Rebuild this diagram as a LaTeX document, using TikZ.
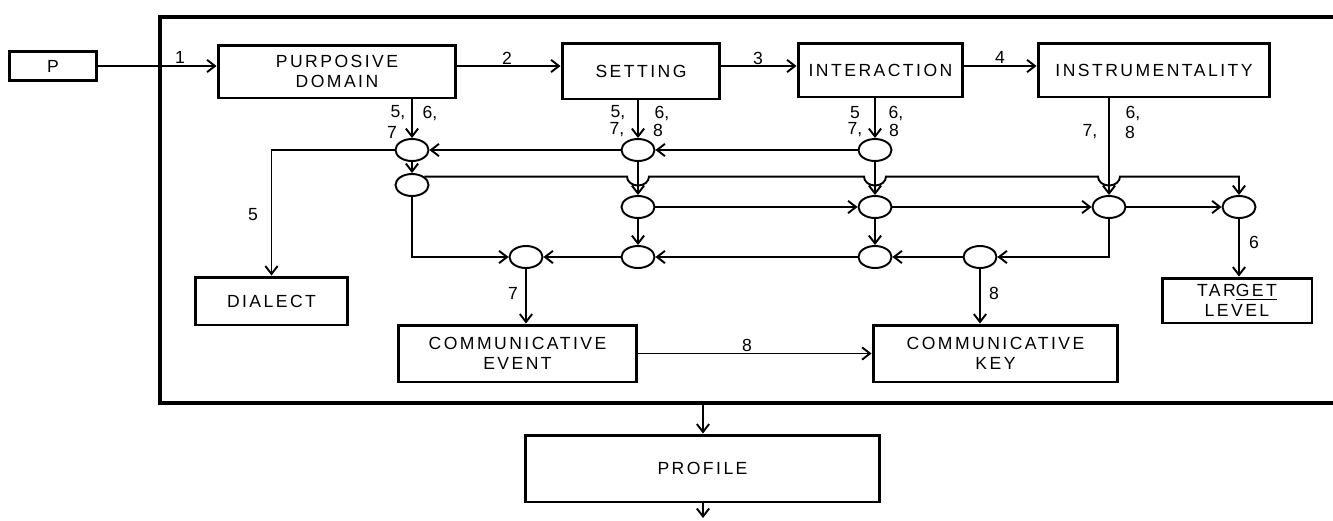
\documentclass[tikz,border=0pt]{standalone}
\usepackage{fontspec}
\setmainfont{Liberation Sans}
\newfontfamily\boxfont{Liberation Sans}[LetterSpace=14]
\usetikzlibrary{arrows.meta,shapes.geometric,calc}

\begin{document}
\begin{tikzpicture}[x=0.02cm, y=-0.02cm, line width=1.1pt,
    >={Straight Barb[length=4.5pt,width=7pt]},
    box/.style={draw, line width=1.7pt, align=center, inner sep=0pt,
      font=\boxfont\fontsize{10}{11}\selectfont},
    junc/.style={draw, ellipse, inner sep=0pt, minimum width=0.66cm, minimum height=0.44cm},
    lab/.style={inner sep=0pt, font=\fontsize{10}{11}\selectfont}]
  \def\jr{11}   % half width of a line jump
  \def\jd{9}    % depth of a line jump
  \useasboundingbox (0,0) rectangle (1333,521);
  % outer frame (open on the right)
  \draw[line width=2pt] (1345,17) -- (160,17) -- (160,403) -- (1345,403);
  % boxes
  \node[box, minimum width=1.74cm, minimum height=0.58cm] (p) at (53,66) {P};
  \node[box, minimum width=4.76cm, minimum height=1.06cm] (pd) at (337,71.5) {PURPOSIVE\\DOMAIN};
  \node[box, minimum width=3.16cm, minimum height=1.12cm] (set) at (641,71) {SETTING};
  \node[box, minimum width=3.30cm, minimum height=1.08cm] (inter) at (880.5,70) {INTERACTION};
  \node[box, minimum width=4.64cm, minimum height=1.08cm] (instr) at (1154,70) {INSTRUMENTALITY};
  \node[box, minimum width=3.06cm, minimum height=0.96cm] (dial) at (271.5,301) {DIALECT};
  \node[box, minimum width=4.78cm, minimum height=1.14cm] (ce) at (517.5,353.5) {COMMUNICATIVE\\EVENT};
  \node[box, minimum width=4.90cm, minimum height=1.14cm] (ck) at (995.5,353.5) {COMMUNICATIVE\\KEY};
  \node[box, minimum width=3.00cm, minimum height=0.90cm] (tl) at (1237,300.5) {TAR\underline{GET}\\LEVEL};
  \node[box, minimum width=7.10cm, minimum height=1.34cm] (prof) at (702.5,468.5) {PROFILE};
  % junctions
  \node[junc] (pd1) at (412,150) {};
  \node[junc] (pd2) at (412,185) {};
  \node[junc] (s1) at (638,150) {};
  \node[junc] (i1) at (875,150) {};
  \node[junc] (s3) at (638,207) {};
  \node[junc] (i3) at (875,207) {};
  \node[junc] (n3) at (1109,207) {};
  \node[junc] (t3) at (1239,207) {};
  \node[junc] (e4) at (526,257) {};
  \node[junc] (s4) at (638,257) {};
  \node[junc] (i4) at (875,257) {};
  \node[junc] (k4) at (980,257) {};
  % top chain
  \draw[->] (p.east) -- (p.east -| pd.west);
  \draw[->] (pd.east |- p.east) -- (set.west |- p.east);
  \draw[->] (set.east |- p.east) -- (inter.west |- p.east);
  \draw[->] (inter.east |- p.east) -- (instr.west |- p.east);
  % from the boxes down to the junctions
  \draw[->] (pd.south -| pd1) -- (pd1.north);
  \draw[->] (set.south -| s1) -- (s1.north);
  \draw[->] (inter.south -| i1) -- (i1.north);
  \draw[->] (instr.south -| n3) -- (n3.north);
  % line with jumps over the verticals
  \coordinate (js) at (pd2.north east);
  \draw[->] (js) -- ($(s1 |- js)+(-\jr,0)$)
    arc[start angle=180, end angle=0, x radius=\jr, y radius=\jd]
    -- ($(i1 |- js)+(-\jr,0)$)
    arc[start angle=180, end angle=0, x radius=\jr, y radius=\jd]
    -- ($(n3 |- js)+(-\jr,0)$)
    arc[start angle=180, end angle=0, x radius=\jr, y radius=\jd]
    -- (t3 |- js) -- (t3.north);
  % network
  \draw[->] (pd1) -- (pd2);
  \draw[->] (i1) -- (s1);
  \draw[->] (s1) -- (pd1);
  \draw[->] (pd1.west) -| (dial.north);
  \draw[->] (pd2.south) |- (e4.west);
  \draw[->] (s1) -- (s3);
  \draw[->] (s3) -- (s4);
  \draw[->] (i1) -- (i3);
  \draw[->] (i3) -- (i4);
  \draw[->] (s3) -- (i3);
  \draw[->] (i3) -- (n3);
  \draw[->] (n3) -- (t3);
  \draw[->] (n3.south) |- (k4.east);
  \draw[->] (k4) -- (i4);
  \draw[->] (i4) -- (s4);
  \draw[->] (s4) -- (e4);
  \draw[->] (t3.south) -- (t3.south |- tl.north);
  \draw[->] (e4.south) -- (e4.south |- ce.north);
  \draw[->] (k4.south) -- (k4.south |- ck.north);
  \draw[->] (ce) -- (ck);
  % frame to profile and out
  \coordinate (fb) at (703,403);
  \coordinate (out) at (703,518);
  \draw[->] (fb) -- (fb |- prof.north);
  \draw[->] (prof.south -| out) -- (out);
  % labels
  \node[lab] (l1) at (180,57) {1};
  \node[lab] (l2) at (507,58) {2};
  \node[lab] (l3) at (758,58) {3};
  \node[lab] (l4) at (1000,57) {4};
  \node[lab] (lpa) at (398,113) {5,};
  \node[lab] (lpb) at (430,113) {6,};
  \node[lab] (lpc) at (392,132) {7};
  \node[lab] (lsa) at (618,113) {5,};
  \node[lab] (lsb) at (662,113) {6,};
  \node[lab] (lsc) at (617,130) {7,};
  \node[lab] (lsd) at (658,130) {8};
  \node[lab] (lia) at (855,113) {5};
  \node[lab] (lib) at (896,113) {6,};
  \node[lab] (lic) at (855,130) {7,};
  \node[lab] (lid) at (894,130) {8};
  \node[lab] (lna) at (1133,113) {6,};
  \node[lab] (lnb) at (1090,132) {7,};
  \node[lab] (lnc) at (1130,132) {8};
  \node[lab] (ld) at (253,215) {5};
  \node[lab] (lt) at (1254,242) {6};
  \node[lab] (le) at (513,293) {7};
  \node[lab] (lk) at (994,293) {8};
  \node[lab] (lek) at (747,345) {8};
\end{tikzpicture}
\end{document}
